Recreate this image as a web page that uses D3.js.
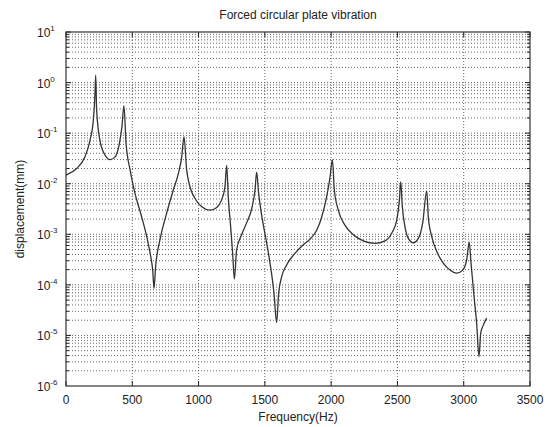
<!DOCTYPE html>
<html>
<head>
<meta charset="utf-8">
<script src="https://cdn.jsdelivr.net/npm/d3@7"></script>
<style>
  body { margin: 0; background: #fff; }
  text { font-family: "Liberation Sans", Arial, sans-serif; fill: #222; }
</style>
</head>
<body>
<script>
// values (Hz, mm)
const freq = [0, 5, 80, 143, 181, 206, 219, 224, 231, 256, 294, 332, 370, 403, 422, 437,
  453, 483, 520, 571, 609, 639, 654, 664, 676, 709, 759, 810, 848, 873, 890,
  910, 935, 973, 1024, 1086, 1137, 1174, 1199, 1212, 1224, 1242, 1257, 1270,
  1287, 1325, 1363, 1401, 1426, 1438, 1453, 1476, 1509, 1539, 1569, 1589,
  1604, 1627, 1665, 1727, 1790, 1840, 1891, 1929, 1966, 1991, 2009,
  2024, 2054, 2105, 2167, 2243, 2331, 2406, 2457, 2495, 2515, 2525,
  2537, 2557, 2582, 2620, 2658, 2691, 2721, 2733, 2759, 2796, 2846, 2897, 2947,
  2992, 3022, 3042, 3055, 3078, 3098, 3115, 3128, 3148, 3173];
const disp = [0.0148, 0.0150, 0.020, 0.034, 0.072, 0.18, 0.62, 1.4, 0.29, 0.072, 0.037, 0.030, 0.034, 0.063, 0.135, 0.35,
  0.063, 0.019, 0.0065, 0.0022, 0.0009, 0.00036, 0.000196, 0.000085, 0.00023, 0.00078, 0.0026, 0.0076, 0.016, 0.034, 0.085,
  0.019, 0.0087, 0.0051, 0.0035, 0.0030, 0.0034, 0.0048, 0.0087, 0.023, 0.0055, 0.0014, 0.00042, 0.00013,
  0.00049, 0.00098, 0.0017, 0.0032, 0.0076, 0.017, 0.0065, 0.0024, 0.00078, 0.00027, 0.000068, 0.000018,
  0.000068, 0.000145, 0.00025, 0.00042, 0.00062, 0.00080, 0.0012, 0.0022, 0.0055, 0.013, 0.030,
  0.0076, 0.0030, 0.0015, 0.00098, 0.00074, 0.00066, 0.00074, 0.00105, 0.0019, 0.0048, 0.011,
  0.0035, 0.0014, 0.00083, 0.00068, 0.00083, 0.0017, 0.0072, 0.0022, 0.0009, 0.00046, 0.00027, 0.000196, 0.00017,
  0.000196, 0.00031, 0.0007, 0.00027, 0.000059, 0.000017, 0.0000038, 0.000011, 0.000016, 0.000022];

const xTicks = [0, 500, 1000, 1500, 2000, 2500, 3000, 3500];
const yExps = [1, 0, -1, -2, -3, -4, -5, -6];
const titleText = 'Forced circular plate vibration';
const xLabel = 'Frequency(Hz)';
const yLabel = 'displacement(mm)';

const width = 551, height = 427;
const margin = { left: 66, right: 21, top: 32, bottom: 41 };

const svg = d3.select('body').append('svg')
  .attr('width', width)
  .attr('height', height);

const x = d3.scaleLinear().domain([0, 3500]).range([margin.left, width - margin.right]);
const y = d3.scaleLog().domain([1e-6, 10]).range([height - margin.bottom, margin.top]);

// grid
let grid = svg.append('g')
  .attr('stroke', '#555')
  .attr('stroke-width', 0.9)
  .attr('stroke-dasharray', '1,2')
  .attr('fill', 'none');

let yGrid = [];
for (let e = -6; e <= 0; e++) {
  for (let m = 1; m <= 9; m++) {
    if (m === 1 && e === -6) continue;
    yGrid.push(m * Math.pow(10, e));
  }
}
grid.selectAll('line.hy').data(yGrid).enter().append('line')
  .attr('x1', x(0)).attr('x2', x(3500))
  .attr('y1', d => y(d)).attr('y2', d => y(d));

grid.selectAll('line.vx').data(xTicks.slice(1, -1)).enter().append('line')
  .attr('x1', d => x(d)).attr('x2', d => x(d))
  .attr('y1', y(1e-6)).attr('y2', y(10));

// ticks (inward, both sides)
let ticks = svg.append('g').attr('stroke', '#222').attr('stroke-width', 1);
yGrid.concat([10]).forEach(d => {
  const major = Math.abs(Math.log10(d) - Math.round(Math.log10(d))) < 1e-9;
  const len = major ? 5 : 3;
  ticks.append('line').attr('x1', x(0)).attr('x2', x(0) + len).attr('y1', y(d)).attr('y2', y(d));
  ticks.append('line').attr('x1', x(3500)).attr('x2', x(3500) - len).attr('y1', y(d)).attr('y2', y(d));
});
xTicks.forEach(d => {
  ticks.append('line').attr('x1', x(d)).attr('x2', x(d)).attr('y1', y(1e-6)).attr('y2', y(1e-6) - 5);
  ticks.append('line').attr('x1', x(d)).attr('x2', x(d)).attr('y1', y(10)).attr('y2', y(10) + 5);
});

// frame
svg.append('rect')
  .attr('x', x(0)).attr('y', y(10))
  .attr('width', x(3500) - x(0)).attr('height', y(1e-6) - y(10))
  .attr('fill', 'none').attr('stroke', '#333').attr('stroke-width', 1.2);

// response curve
const pts = freq.map((f, i) => [f, disp[i]]);
const line = d3.line().x(d => x(d[0])).y(d => y(d[1])).curve(d3.curveMonotoneX);
svg.append('path')
  .datum(pts)
  .attr('d', line)
  .attr('fill', 'none')
  .attr('stroke', '#333')
  .attr('stroke-width', 1.3)
  .attr('stroke-linejoin', 'round');

// x tick labels
svg.append('g').selectAll('text').data(xTicks).enter().append('text')
  .attr('x', d => x(d))
  .attr('y', y(1e-6) + 18)
  .attr('text-anchor', 'middle')
  .style('font-size', '12px')
  .text(d => d);

// y tick labels 10^n
let yl = svg.append('g').selectAll('text').data(yExps).enter().append('text')
  .attr('x', x(0) - 29)
  .attr('y', d => y(Math.pow(10, d)) + 5)
  .attr('text-anchor', 'start')
  .style('font-size', '12px');
yl.append('tspan').text('10');
yl.append('tspan')
  .attr('dy', -6)
  .style('font-size', '8px')
  .text(d => d);

// title and axis labels
svg.append('text')
  .attr('x', (x(0) + x(3500)) / 2).attr('y', 19)
  .attr('text-anchor', 'middle')
  .style('font-size', '12px')
  .text(titleText);

svg.append('text')
  .attr('x', (x(0) + x(3500)) / 2).attr('y', 421)
  .attr('text-anchor', 'middle')
  .style('font-size', '12px')
  .text(xLabel);

svg.append('text')
  .attr('transform', `translate(24, ${(y(1e-6) + y(10)) / 2}) rotate(-90)`)
  .attr('text-anchor', 'middle')
  .style('font-size', '12px')
  .text(yLabel);
</script>
</body>
</html>
